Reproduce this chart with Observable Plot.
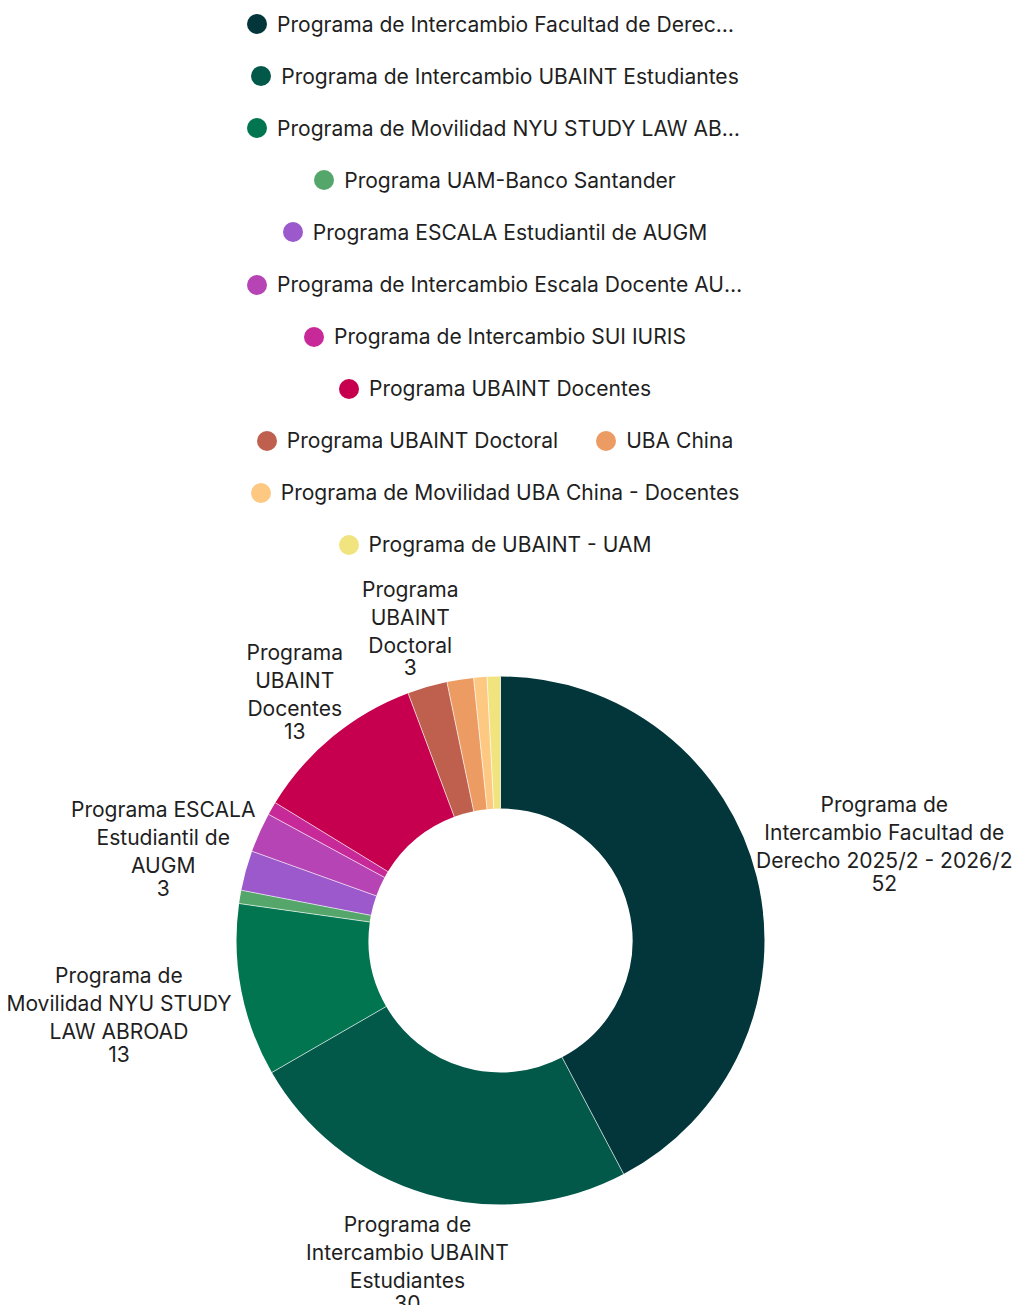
<!DOCTYPE html>
<html>
<head>
<meta charset="utf-8">
<script src="https://cdn.jsdelivr.net/npm/d3@7"></script>
<script src="https://cdn.jsdelivr.net/npm/@observablehq/plot@0.6"></script>
<style>
  html, body { margin: 0; padding: 0; background: #fff; }
  body { width: 1013px; height: 1305px; position: relative; overflow: hidden; font-family: Inter, "Noto Sans", sans-serif; color: #1f1f1f; }
  #legend { position: absolute; left: 205px; top: -2px; width: 580px; display: flex; flex-wrap: wrap; justify-content: center; }
  .item { display: flex; align-items: center; height: 52.1px; margin: 0 19px; }
  .sw { width: 20px; height: 20px; border-radius: 50%; margin-right: 10px; flex: none; }
  .lab { max-width: 466px; overflow: hidden; white-space: nowrap; text-overflow: ellipsis; }
  #chart { position: absolute; left: 0; top: 570px; }
</style>
</head>
<body>
<div id="legend"></div>
<div id="chart"></div>
<script>
const names = [
  "Programa de Intercambio Facultad de Derecho 2025/2 - 2026/2",
  "Programa de Intercambio UBAINT Estudiantes",
  "Programa de Movilidad NYU STUDY LAW ABROAD",
  "Programa UAM-Banco Santander",
  "Programa ESCALA Estudiantil de AUGM",
  "Programa de Intercambio Escala Docente AUGM",
  "Programa de Intercambio SUI IURIS",
  "Programa UBAINT Docentes",
  "Programa UBAINT Doctoral",
  "UBA China",
  "Programa de Movilidad UBA China - Docentes",
  "Programa de UBAINT - UAM"
];
const values = [52, 30, 13, 1, 3, 3, 1, 13, 3, 2, 1, 1];
const colors = ["#02363a", "#02594a", "#017550", "#54a66b", "#9b59cb", "#b744b5",
                "#c72a98", "#c6004f", "#bf604f", "#ec9b63", "#fdc982", "#f1e47e"];
const sliceLabels = [
  "Programa de\nIntercambio Facultad de\nDerecho 2025/2 - 2026/2",
  "Programa de\nIntercambio UBAINT\nEstudiantes",
  "Programa de\nMovilidad NYU STUDY\nLAW ABROAD",
  null,
  "Programa ESCALA\nEstudiantil de\nAUGM",
  null,
  null,
  "Programa\nUBAINT\nDocentes",
  "Programa\nUBAINT\nDoctoral",
  null, null, null
];

const FAMILY = 'Inter, "Noto Sans", sans-serif';
const ctx = document.createElement("canvas").getContext("2d");
// pick a font size so that the legend's longest un-truncated entry is ~458px wide
ctx.font = `20px ${FAMILY}`;
const refW = ctx.measureText(names[1]).width;
const FONT = Math.max(16, Math.min(22, 20 * 458 / refW));
ctx.font = `${FONT}px ${FAMILY}`;
const LH = 28;

// Legend (HTML, above the SVG)
const legend = document.getElementById("legend");
names.forEach((n, i) => {
  const it = document.createElement("div");
  it.className = "item";
  const sw = document.createElement("span");
  sw.className = "sw";
  sw.style.background = colors[i];
  const lab = document.createElement("span");
  lab.className = "lab";
  lab.style.fontSize = FONT + "px";
  lab.textContent = n;
  it.appendChild(sw); it.appendChild(lab);
  legend.appendChild(it);
});

// Geometry
const W = 1013, H = 735;
const CX = 500, CY = 370;
const R = 264, r = 132, Rm = (R + r) / 2;
const PAD = 10;
const rows = names.map((name, i) => ({name, value: values[i], label: sliceLabels[i]}));
const arcs = d3.pie().sort(null).value(d => d.value)(rows);

const pt = (rad, a) => [rad * Math.sin(a), -rad * Math.cos(a)];

const sliceMarks = arcs.map(a => {
  const [x1, y1] = pt(Rm, a.startAngle);
  const [x2, y2] = pt(Rm, a.endAngle);
  const bend = (a.endAngle - a.startAngle) / 2 * 180 / Math.PI;
  return Plot.arrow([{x1, y1, x2, y2, name: a.data.name}], {
    x1: "x1", y1: "y1", x2: "x2", y2: "y2",
    bend, headLength: 0, stroke: "name",
    strokeWidth: R - r, strokeLinecap: "butt", strokeLinejoin: "miter"
  });
});

const seps = arcs.map(a => {
  const [x1, y1] = pt(r, a.startAngle);
  const [x2, y2] = pt(R, a.startAngle);
  return {x1, y1, x2, y2};
});

// distance from the donut centre to an axis-aligned rectangle
function rectDist(x0, x1, y0, y1) {
  const dx = Math.max(x0, 0, -x1), dy = Math.max(y0, 0, -y1);
  return Math.hypot(dx, dy);
}

const nameTexts = [], numTexts = [];
arcs.forEach(a => {
  if (!a.data.label) return;
  const lines = a.data.label.split("\n");
  const items = lines.map((l, i) => ({w: ctx.measureText(l).width, off: i * LH + LH / 2}));
  items.push({w: ctx.measureText(String(a.data.value)).width, off: lines.length * LH + 12});
  const h = lines.length * LH + 24;
  const mid = (a.startAngle + a.endAngle) / 2;
  const dx = Math.sin(mid), dy = -Math.cos(mid);
  const maxW = Math.max(...items.map(d => d.w));
  const minGap = D => {
    const cx = dx * D, cy = dy * D;
    const top = cy - h / 2;
    return Math.min(...items.map(d => rectDist(cx - d.w / 2, cx + d.w / 2, top + d.off - 10, top + d.off + 10)));
  };
  let lo = 0, hi = R + 400;
  for (let k = 0; k < 60; k++) {
    const m = (lo + hi) / 2;
    if (minGap(m) >= R + PAD) hi = m; else lo = m;
  }
  let cx = dx * hi;
  const cy = dy * hi;
  // keep the label inside the frame horizontally
  cx = Math.min(cx, (W - CX) - 1 - maxW / 2);
  cx = Math.max(cx, -CX + 1 + maxW / 2);
  const top = cy - h / 2;
  nameTexts.push({x: cx, y: top + lines.length * LH / 2, text: a.data.label});
  numTexts.push({x: cx, y: top + lines.length * LH + 11, text: String(a.data.value)});
});

const chart = Plot.plot({
  width: W, height: H,
  margin: 0,
  style: {fontFamily: FAMILY, background: "transparent", overflow: "visible"},
  x: {domain: [-CX, W - CX], axis: null},
  y: {domain: [-CY, H - CY], reverse: true, axis: null},
  color: {domain: names, range: colors},
  marks: [
    ...sliceMarks,
    Plot.link(seps, {x1: "x1", y1: "y1", x2: "x2", y2: "y2", stroke: "white", strokeWidth: 0.8, strokeOpacity: 0.8}),
    Plot.text(nameTexts, {x: "x", y: "y", text: "text", fontSize: FONT, lineHeight: LH / FONT, lineAnchor: "middle", fill: "#1f1f1f"}),
    Plot.text(numTexts, {x: "x", y: "y", text: "text", fontSize: FONT, lineAnchor: "middle", fill: "#1f1f1f"})
  ]
});
document.getElementById("chart").appendChild(chart);
</script>
</body>
</html>
